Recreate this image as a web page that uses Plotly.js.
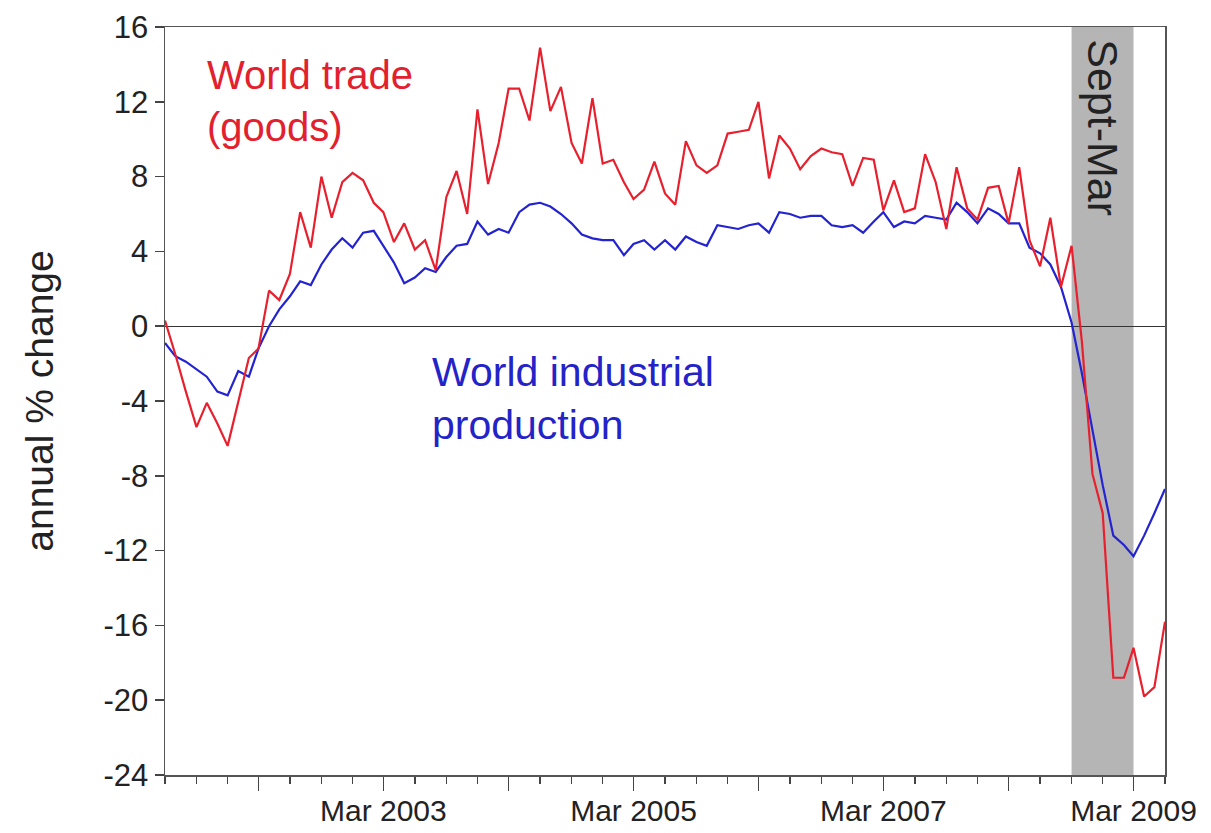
<!DOCTYPE html>
<html>
<head>
<meta charset="utf-8">
<script src="https://cdn.plot.ly/plotly-3.0.1.min.js"></script>
<style>html,body{margin:0;padding:0;background:#fff;}#chart{width:1211px;height:833px;}</style>
</head>
<body>
<div id="chart"></div>
<script>
// Monthly observations, Jun 2001 - Jun 2009
const months = [
  "2001-06-01","2001-07-01","2001-08-01","2001-09-01","2001-10-01","2001-11-01","2001-12-01",
  "2002-01-01","2002-02-01","2002-03-01","2002-04-01","2002-05-01","2002-06-01","2002-07-01","2002-08-01","2002-09-01","2002-10-01","2002-11-01","2002-12-01",
  "2003-01-01","2003-02-01","2003-03-01","2003-04-01","2003-05-01","2003-06-01","2003-07-01","2003-08-01","2003-09-01","2003-10-01","2003-11-01","2003-12-01",
  "2004-01-01","2004-02-01","2004-03-01","2004-04-01","2004-05-01","2004-06-01","2004-07-01","2004-08-01","2004-09-01","2004-10-01","2004-11-01","2004-12-01",
  "2005-01-01","2005-02-01","2005-03-01","2005-04-01","2005-05-01","2005-06-01","2005-07-01","2005-08-01","2005-09-01","2005-10-01","2005-11-01","2005-12-01",
  "2006-01-01","2006-02-01","2006-03-01","2006-04-01","2006-05-01","2006-06-01","2006-07-01","2006-08-01","2006-09-01","2006-10-01","2006-11-01","2006-12-01",
  "2007-01-01","2007-02-01","2007-03-01","2007-04-01","2007-05-01","2007-06-01","2007-07-01","2007-08-01","2007-09-01","2007-10-01","2007-11-01","2007-12-01",
  "2008-01-01","2008-02-01","2008-03-01","2008-04-01","2008-05-01","2008-06-01","2008-07-01","2008-08-01","2008-09-01","2008-10-01","2008-11-01","2008-12-01",
  "2009-01-01","2009-02-01","2009-03-01","2009-04-01","2009-05-01","2009-06-01"
];

// World trade (goods), annual % change
const worldTrade = [
  0.3, -1.5, -3.5, -5.4, -4.1, -5.2, -6.4,
  -4.1, -1.7, -1.2, 1.9, 1.4, 2.8, 6.1, 4.2, 8.0, 5.8, 7.7, 8.2,
  7.8, 6.6, 6.1, 4.5, 5.5, 4.1, 4.6, 3.0, 6.9, 8.3, 6.0, 11.6,
  7.6, 9.8, 12.7, 12.7, 11.0, 14.9, 11.5, 12.8, 9.8, 8.7, 12.2, 8.7,
  8.9, 7.7, 6.8, 7.3, 8.8, 7.1, 6.5, 9.9, 8.6, 8.2, 8.6, 10.3,
  10.4, 10.5, 12.0, 7.9, 10.2, 9.5, 8.4, 9.1, 9.5, 9.3, 9.2, 7.5,
  9.0, 8.9, 6.2, 7.8, 6.1, 6.3, 9.2, 7.7, 5.2, 8.5, 6.3, 5.7,
  7.4, 7.5, 5.5, 8.5, 4.6, 3.2, 5.8, 2.1, 4.3, -0.8, -7.9, -10.0,
  -18.8, -18.8, -17.2, -19.8, -19.3, -15.8
];

// World industrial production, annual % change
const worldIP = [
  -0.9, -1.6, -1.9, -2.3, -2.7, -3.5, -3.7,
  -2.4, -2.7, -1.2, 0.0, 0.9, 1.6, 2.4, 2.2, 3.3, 4.1, 4.7, 4.2,
  5.0, 5.1, 4.3, 3.4, 2.3, 2.6, 3.1, 2.9, 3.7, 4.3, 4.4, 5.6,
  4.9, 5.2, 5.0, 6.1, 6.5, 6.6, 6.4, 6.0, 5.5, 4.9, 4.7, 4.6,
  4.6, 3.8, 4.4, 4.6, 4.1, 4.6, 4.1, 4.8, 4.5, 4.3, 5.4, 5.3,
  5.2, 5.4, 5.5, 5.0, 6.1, 6.0, 5.8, 5.9, 5.9, 5.4, 5.3, 5.4,
  5.0, 5.6, 6.1, 5.3, 5.6, 5.5, 5.9, 5.8, 5.7, 6.6, 6.1, 5.5,
  6.3, 6.0, 5.5, 5.5, 4.2, 3.9, 3.3, 2.1, 0.2, -2.5, -5.5, -8.5,
  -11.2, -11.7, -12.3, -11.2, -10.0, -8.7
];

// X axis major ticks and labels
const xTickVals = ["2002-03-01","2003-03-01","2004-03-01","2005-03-01","2006-03-01","2007-03-01","2008-03-01","2009-03-01"];
const xTickText = ["", "Mar 2003", "", "Mar 2005", "", "Mar 2007", "", "Mar 2009"];
// Y axis ticks and labels (plain hyphen as in the original)
const yTickVals = [-24, -20, -16, -12, -8, -4, 0, 4, 8, 12, 16];
const yTickText = ["-24", "-20", "-16", "-12", "-8", "-4", "0", "4", "8", "12", "16"];

// Shaded crisis period
const shadeStart = "2008-09-01";
const shadeEnd = "2009-03-01";
const xStart = "2001-06-01";
const xEnd = "2009-06-01";

const FONT = "Liberation Sans, Arial, Helvetica, sans-serif";

const traces = [
  {
    x: months, y: worldIP, type: "scatter", mode: "lines",
    line: {color: "#2323d2", width: 2.2}, name: "World industrial production"
  },
  {
    x: months, y: worldTrade, type: "scatter", mode: "lines",
    line: {color: "#e8202e", width: 2.2}, name: "World trade (goods)"
  }
];

const layout = {
  width: 1211, height: 833,
  margin: {l: 165, r: 46, t: 27, b: 58},
  paper_bgcolor: "#ffffff", plot_bgcolor: "#ffffff",
  showlegend: false,
  font: {family: FONT, color: "#222222"},
  xaxis: {
    type: "date",
    range: [xStart, xEnd],
    tickmode: "array", tickvals: xTickVals, ticktext: xTickText,
    ticks: "outside", ticklen: 14, tickwidth: 1.5, tickcolor: "#444",
    ticklabelstandoff: -6,
    minor: {dtick: "M3", tick0: xStart, ticks: "outside", ticklen: 7, tickwidth: 1.5, tickcolor: "#444", showgrid: false},
    tickfont: {size: 30, family: FONT, color: "#222"},
    showline: true, linecolor: "#555", linewidth: 1.5, mirror: true,
    showgrid: false, zeroline: false
  },
  yaxis: {
    range: [-24, 16],
    tickmode: "array", tickvals: yTickVals, ticktext: yTickText,
    ticks: "outside", ticklen: 9, tickwidth: 1.5, tickcolor: "#444",
    tickfont: {size: 31, family: FONT, color: "#222"},
    showline: true, linecolor: "#555", linewidth: 1.5, mirror: true,
    showgrid: false,
    zeroline: true, zerolinecolor: "#333", zerolinewidth: 1.2,
    title: {text: "annual % change", font: {size: 39, family: FONT, color: "#222"}, standoff: 38}
  },
  shapes: [
    {type: "rect", xref: "x", yref: "paper", x0: shadeStart, x1: shadeEnd, y0: 0, y1: 1,
     fillcolor: "#b5b5b5", line: {width: 0}, layer: "below"}
  ],
  annotations: [
    {xref: "paper", yref: "paper", x: 0.04, y: 0.968, xanchor: "left", yanchor: "top", align: "left",
     text: "World trade<br>(goods)", showarrow: false, font: {size: 40, family: FONT, color: "#e2202e"}},
    {xref: "paper", yref: "paper", x: 0.265, y: 0.572, xanchor: "left", yanchor: "top", align: "left",
     text: "World industrial<br>production", showarrow: false, font: {size: 41, family: FONT, color: "#2323c8"}},
    {xref: "paper", yref: "paper", x: 0.938, y: 0.987, xanchor: "center", yanchor: "top",
     text: "Sept-Mar", textangle: 90, showarrow: false, font: {size: 43, family: FONT, color: "#222"}}
  ]
};

Plotly.newPlot("chart", traces, layout, {staticPlot: true, displayModeBar: false});
</script>
</body>
</html>
